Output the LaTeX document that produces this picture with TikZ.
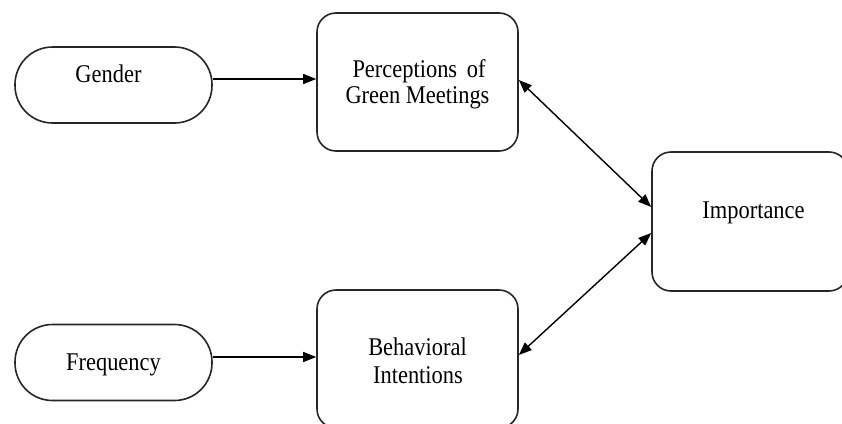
\documentclass[tikz,border=0pt]{standalone}
\usepackage{fontspec}
\newfontfamily\tf[FakeStretch=0.88]{Liberation Serif}
\usetikzlibrary{arrows.meta}
\begin{document}
\begin{tikzpicture}[x=1pt,y=-1pt,
  pill/.style={draw=black!85, line width=1.6pt, rounded corners=37.5pt, inner sep=0pt, minimum width=197pt, minimum height=76pt},
  roundbox/.style={draw=black!85, line width=1.6pt, rounded corners=19pt, inner sep=0pt, minimum width=201pt, minimum height=138pt},
  lbl/.style={font=\tf\fontsize{25.5}{27}\selectfont, inner sep=0pt, anchor=base},
  arr/.style={line width=1.4pt, -{Triangle[length=13pt,width=10pt]}},
  darr/.style={line width=1.4pt, {Triangle[length=13pt,width=10pt]}-{Triangle[length=13pt,width=10pt]}}]
\useasboundingbox (0,0) rectangle (842,423);
\fill[white] (0,0) rectangle (842,423);
\node[pill] (gender) at (113.5,85) {};
\node[pill] (freq) at (113.5,362.5) {};
\node[roundbox] (perc) at (417.5,82) {};
\node[roundbox] (behav) at (417.5,359) {};
\node[roundbox, minimum width=196pt, minimum height=139pt] (imp) at (750,221.5) {};
\node[lbl] (gendert) at (108.5,82) {Gender};
\node[lbl] (freqt) at (113.5,370) {Frequency};
\node[lbl] (perct1) at (419,77) {Perceptions\hspace{4pt} of};
\node[lbl] (perct2) at (417.5,103) {Green Meetings};
\node[lbl] (behavt1) at (417.5,355) {Behavioral};
\node[lbl] (behavt2) at (418,383) {Intentions};
\node[lbl] (impt) at (753.5,218) {Importance};
\draw[arr] ([yshift=6pt]gender.east) -- ([yshift=6pt]gender.east -| perc.west);
\draw[arr] ([yshift=5.5pt]freq.east) -- ([yshift=5.5pt]freq.east -| behav.west);
\draw[darr] ([yshift=2pt]perc.east) -- ([yshift=14.5pt]imp.west);
\draw[darr] ([yshift=-11.5pt]imp.west) -- ([yshift=4pt]behav.east);
\end{tikzpicture}
\end{document}
